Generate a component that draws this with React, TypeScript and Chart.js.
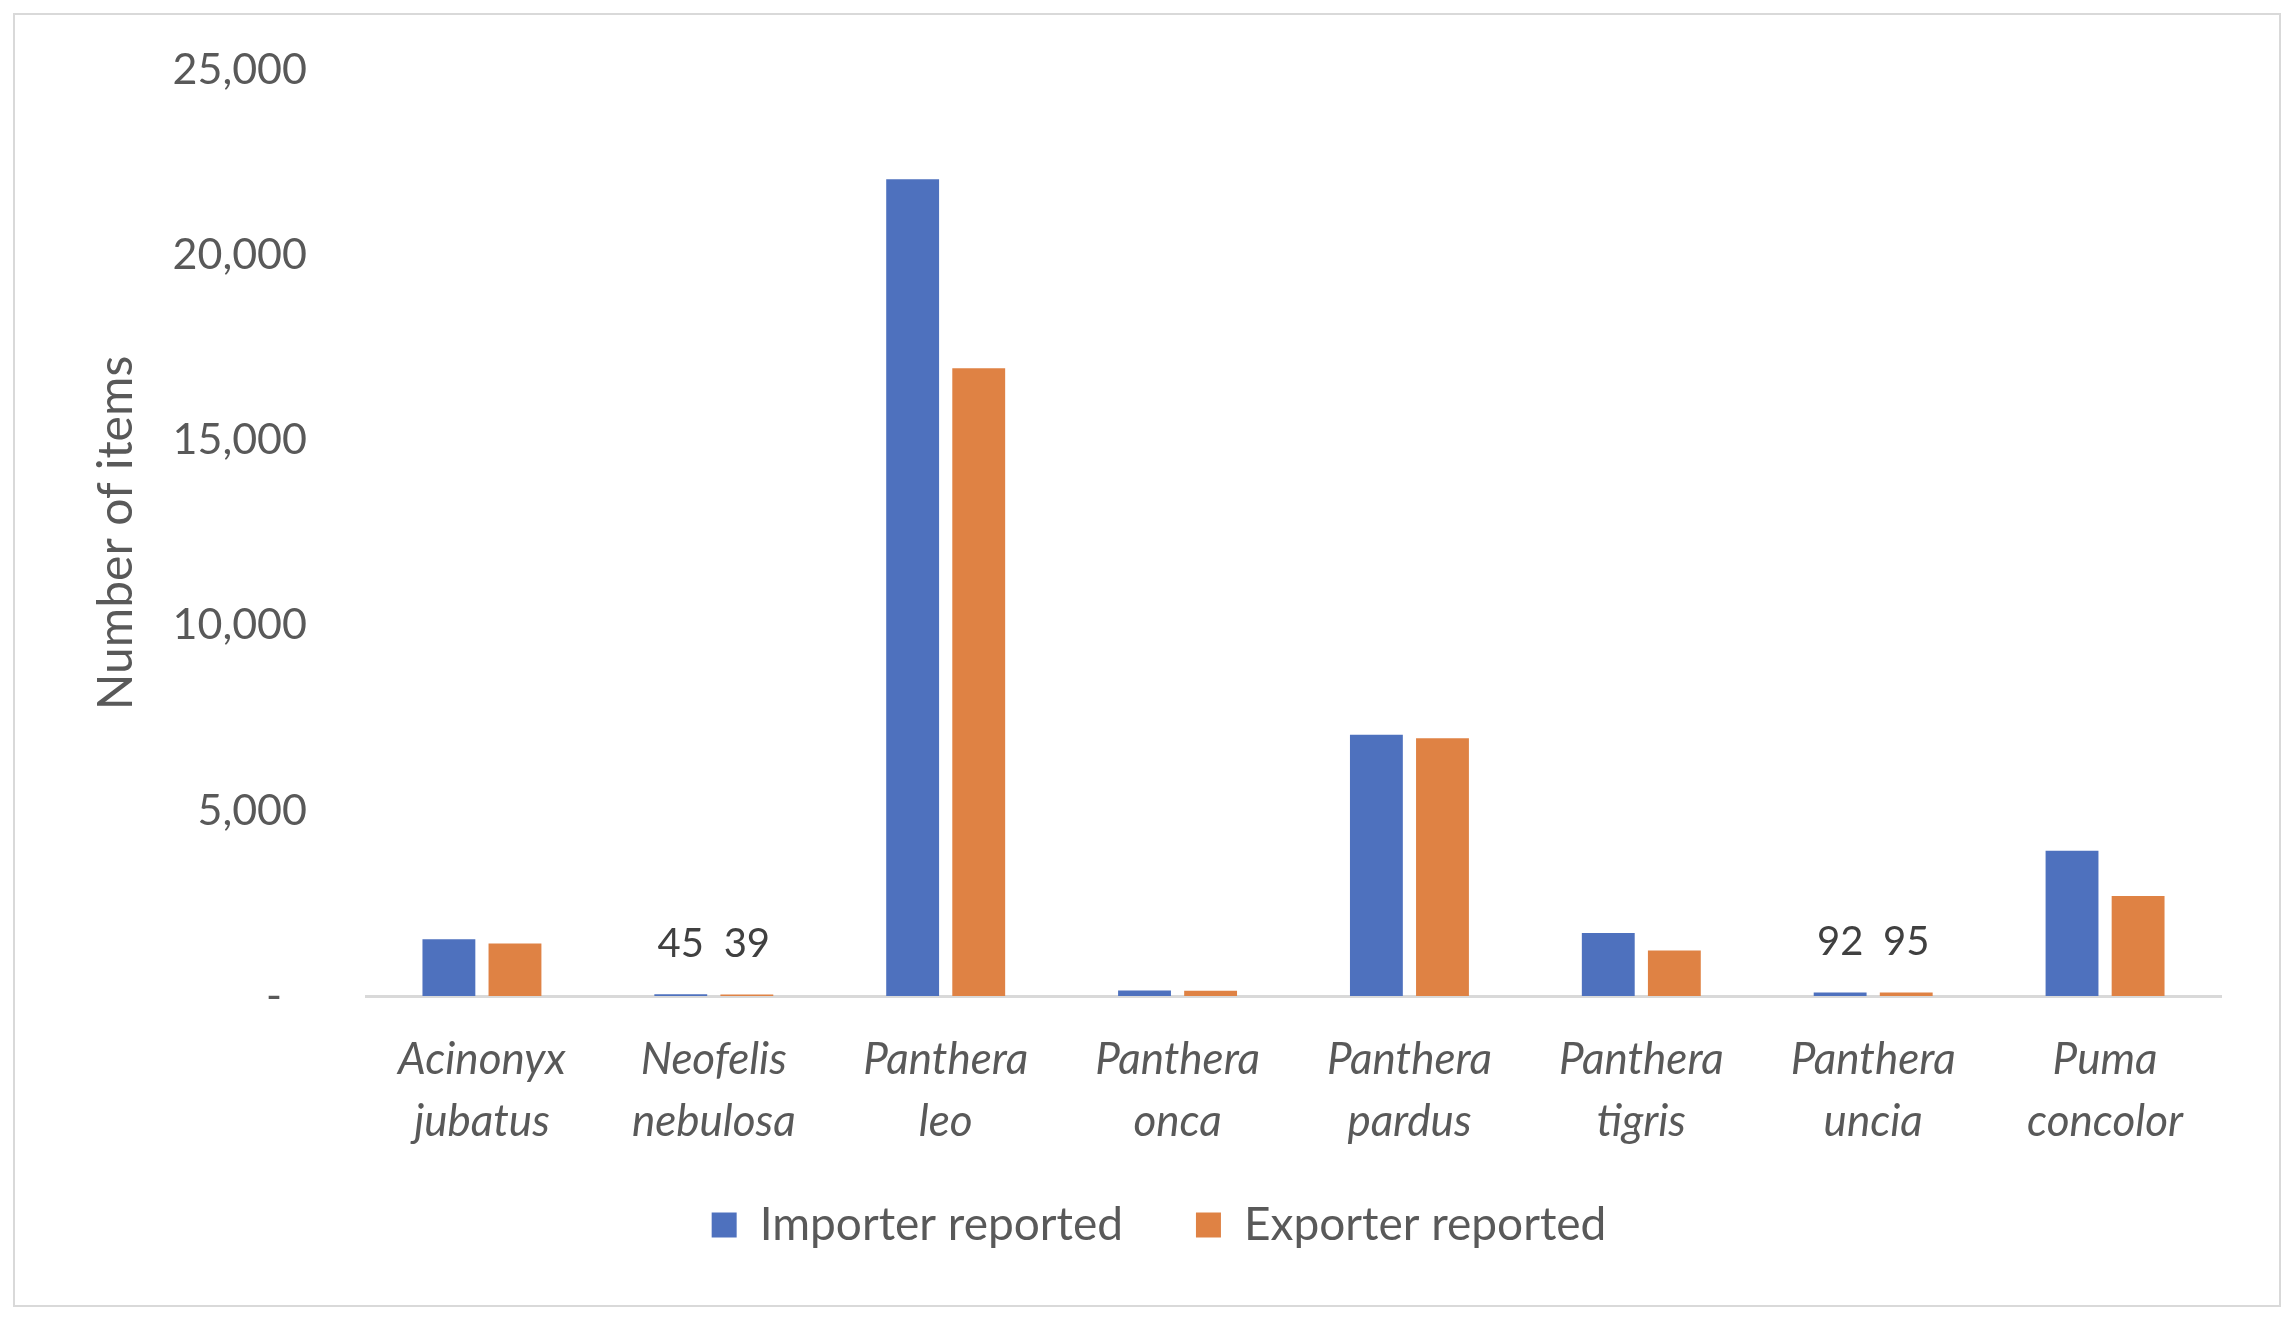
import React, { useEffect, useRef } from 'react';
import { Chart, registerables } from 'chart.js';

Chart.register(...registerables);

const categories: string[][] = [
  ['Acinonyx', 'jubatus'],
  ['Neofelis', 'nebulosa'],
  ['Panthera', 'leo'],
  ['Panthera', 'onca'],
  ['Panthera', 'pardus'],
  ['Panthera', 'tigris'],
  ['Panthera', 'uncia'],
  ['Puma', 'concolor'],
];
const importerReported = [1530, 45, 22050, 150, 7050, 1700, 92, 3920];
const exporterReported = [1420, 39, 16950, 145, 6960, 1230, 95, 2700];
const seriesNames = ['Importer reported', 'Exporter reported'];
const labelledIndices = [1, 6];
const yAxisTitle = 'Number of items';
const yMax = 25000;
const yStep = 5000;

const W = 2294;
const H = 1319;
const FONT = 'Lato';
const TEXT = '#595959';

const framePlugin = {
  id: 'frame',
  beforeDraw(chart: any) {
    const { ctx, width, height } = chart;
    ctx.save();
    ctx.fillStyle = '#ffffff';
    ctx.fillRect(0, 0, width, height);
    ctx.strokeStyle = '#d9d9d9';
    ctx.lineWidth = 2;
    ctx.strokeRect(14, 14, 2266, 1292);
    ctx.restore();
  },
};

const legendShiftPlugin = {
  id: 'legendShift',
  afterLayout(chart: any) {
    const lg = chart.legend;
    if (lg) {
      lg.top -= 27;
      lg.bottom -= 27;
      lg.left += 12;
      lg.right += 12;
    }
  },
};

const valueLabelPlugin = {
  id: 'valueLabels',
  afterDatasetsDraw(chart: any) {
    const ctx = chart.ctx;
    ctx.save();
    ctx.font = `40px ${FONT}`;
    ctx.fillStyle = '#404040';
    ctx.textAlign = 'center';
    ctx.textBaseline = 'middle';
    chart.data.datasets.forEach((ds: any, di: number) => {
      const meta = chart.getDatasetMeta(di);
      labelledIndices.forEach((i) => {
        const el = meta.data[i];
        if (el) ctx.fillText(String(ds.data[i]), el.x, el.y - 50);
      });
    });
    ctx.restore();
  },
};

export default function App() {
  const ref = useRef<HTMLCanvasElement | null>(null);

  useEffect(() => {
    if (!ref.current) return;
    Chart.defaults.font.family = FONT;
    const chart = new Chart(ref.current, {
      type: 'bar',
      data: {
        labels: categories as any,
        datasets: [
          {
            label: seriesNames[0],
            data: importerReported,
            backgroundColor: '#4E71BE',
            categoryPercentage: 0.57,
            barPercentage: 0.8,
          },
          {
            label: seriesNames[1],
            data: exporterReported,
            backgroundColor: '#DF8244',
            categoryPercentage: 0.57,
            barPercentage: 0.8,
          },
        ],
      },
      options: {
        responsive: false,
        animation: false,
        devicePixelRatio: 1,
        layout: { padding: { left: 73, right: 73, top: 70, bottom: 34 } },
        plugins: {
          tooltip: { enabled: false },
          legend: {
            position: 'bottom',
            labels: {
              boxWidth: 25,
              boxHeight: 25,
              padding: 73,
              color: TEXT,
              font: { size: 46, family: FONT },
            },
          },
        },
        scales: {
          x: {
            grid: { display: false, drawTicks: false },
            border: { display: true, color: '#d9d9d9', width: 3 },
            ticks: {
              color: TEXT,
              padding: 33,
              maxRotation: 0,
              autoSkip: false,
              font: { size: 44, family: FONT, style: 'italic', lineHeight: 1.4 },
            },
            afterFit: (scale: any) => {
              scale.height = 160;
            },
          },
          y: {
            min: 0,
            max: yMax,
            grid: { display: false, drawTicks: false },
            border: { display: false },
            ticks: {
              stepSize: yStep,
              color: TEXT,
              padding: 59,
              font: { size: 43, family: FONT },
              callback: (v: any) => (Number(v) === 0 ? '-\u2007' : Number(v).toLocaleString('en-US')),
            },
            title: {
              display: true,
              text: yAxisTitle,
              color: TEXT,
              padding: { top: 15, bottom: 0 },
              font: { size: 48, family: FONT },
            },
            afterFit: (scale: any) => {
              scale.width = 293;
              scale.paddingTop = 0;
              scale.paddingBottom = 0;
            },
          },
        },
      },
      plugins: [framePlugin, legendShiftPlugin, valueLabelPlugin],
    } as any);
    return () => chart.destroy();
  }, []);

  return (
    <div style={{ position: 'fixed', left: 0, top: 0, width: W, height: H, background: '#fff' }}>
      <canvas ref={ref} width={W} height={H} style={{ width: W, height: H, display: 'block' }} />
    </div>
  );
}
